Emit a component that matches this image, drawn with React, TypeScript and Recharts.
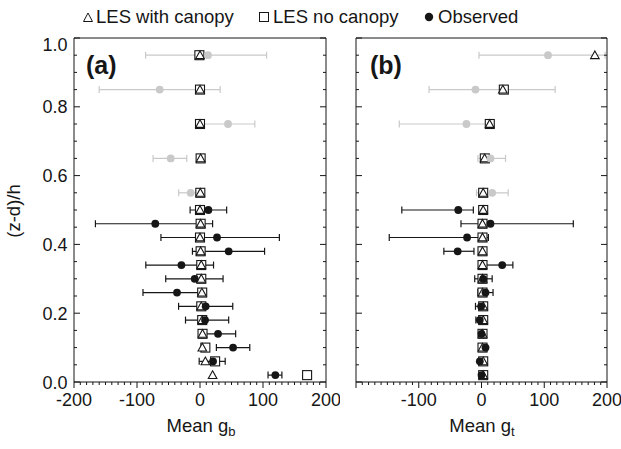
import React from "react";
import { ScatterChart, Scatter, XAxis, YAxis, ErrorBar } from "recharts";

// Heights (z-d)/h of every measurement level, top to bottom
const levels = [0.95, 0.85, 0.75, 0.65, 0.55, 0.5, 0.46, 0.42, 0.38, 0.34, 0.3, 0.26, 0.22, 0.18, 0.14, 0.1, 0.06, 0.02];
// the first levels (above the canopy) are drawn in grey
const upperLevelCount = 5;

// Panel (a): Mean g_b
const aWithCanopy = [0, 0, 0, 1, 0.5, 0, 1, 0, 1, 2, 2, 3, 2, 3.5, 4, 3.7, 8.5, 20];
const aNoCanopy = [-1, 0, 0, 1, 0.5, 0, 1, 0, 1, 2, 2, 3.5, 2, 3.5, 4, 8.5, 24, 170];
const aObserved = [12.7, -64, 44.5, -46.5, -14.8, 13.3, -71, 27, 45.5, -29.5, -8.4, -36.5, 9, 8, 28.6, 52.5, 20.7, 119.6];
const aObsErrLow = [99, 96, 42.5, 28, 19, 29, 95, 89, 57.5, 56.5, 46, 54, 43, 31, 28.6, 26.5, 22, 11.6];
const aObsErrHigh = [93, 96, 42.5, 25.5, 19, 29, 91, 99, 57, 51, 45, 38, 43, 37.5, 28, 26.5, 19.3, 10.4];

// Panel (b): Mean g_t
const bWithCanopy = [180.7, 34, 13, 5, 2.7, 2.7, 1.6, 1.6, 1.6, 1.6, 1.6, 1.6, 2.7, 2.7, 1.6, 1.6, 2.7, 2.7];
const bNoCanopy: (number | null)[] = [null, 35.6, 13.2, 5.3, 2.7, 2.7, 1.6, 1.6, 1.6, 1.6, 1.6, 1.6, 2.7, 2.7, 1.6, 1.6, 2.7, 2.7];
const bObserved = [106, -9.6, -24, 14.3, 17, -37, 14.3, -23, -38, 33, 2.7, 6.4, -0.6, -2.7, 0, 6.4, -2.7, 0];
const bObsErrLow = [110, 74, 107, 20, 25, 90, 47, 124, 22, 31, 13.5, 12, 9, 6.3, 0, 0, 0, 0];
const bObsErrHigh = [91, 127, 35, 24, 25.5, 24, 132, 34, 26, 17, 14.3, 12, 7.5, 6, 0, 0, 0, 0];

// Axes
const xDomain = [-200, 200];
const yDomain = [0, 1];
const xTicks = [-200, -190, -180, -170, -160, -150, -140, -130, -120, -110, -100, -90, -80, -70, -60, -50, -40, -30, -20, -10, 0, 10, 20, 30, 40, 50, 60, 70, 80, 90, 100, 110, 120, 130, 140, 150, 160, 170, 180, 190, 200];
const xMajorTicks = [-200, -100, 0, 100, 200];
const aXLabels = [-200, -100, 0, 100, 200];
const bXLabels = [-100, 0, 100, 200];
const yTicks = [0, 0.05, 0.1, 0.15, 0.2, 0.25, 0.3, 0.35, 0.4, 0.45, 0.5, 0.55, 0.6, 0.65, 0.7, 0.75, 0.8, 0.85, 0.9, 0.95, 1];
const yMajorTicks = [0, 0.2, 0.4, 0.6, 0.8, 1];

const legendLabels = ["LES with canopy", "LES no canopy", "Observed"];
const yTitle = "(z-d)/h";

const FONT = '"Liberation Sans", Arial, Helvetica, sans-serif';
const INK = "#161616";
const GRAY = "#c9c9c9";
const FS = 18;
const TITLE_FS = 18.5;

const near = (a: number, arr: number[]) => arr.some((b) => Math.abs(a - b) < 1e-6);

type Pt = { x: number; y: number; err?: [number, number] };

function points(vals: (number | null)[]): Pt[] {
  const out: Pt[] = [];
  levels.forEach((y, i) => {
    const v = vals[i];
    if (v !== null && v !== undefined) out.push({ x: v, y });
  });
  return out;
}

function obsPoints(vals: number[], low: number[], high: number[]): Pt[] {
  return levels.map((y, i) => ({ x: vals[i], y, err: [low[i], high[i]] as [number, number] }));
}

const NoShape = () => <g />;
const SquareShape = (p: any) =>
  p.cx == null ? <g /> : <rect x={p.cx - 4.5} y={p.cy - 4.5} width={9} height={9} fill="#fff" stroke={INK} strokeWidth={1.1} />;
const TriangleShape = (p: any) =>
  p.cx == null ? (
    <g />
  ) : (
    <path
      d={`M${p.cx},${p.cy - 4.3} L${p.cx + 4.3},${p.cy + 3.4} L${p.cx - 4.3},${p.cy + 3.4} Z`}
      fill="#fff"
      stroke={INK}
      strokeWidth={1.1}
    />
  );
const makeCircle = (color: string) => (p: any) =>
  p.cx == null ? <g /> : <circle cx={p.cx} cy={p.cy} r={3.9} fill={color} />;
const GrayCircle = makeCircle(GRAY);
const BlackCircle = makeCircle(INK);

const makeBottomTick = (labels: number[]) => (p: any) => {
  const v = p.payload.value;
  const major = near(v, xMajorTicks);
  return (
    <g>
      <line x1={p.x} x2={p.x} y1={p.y} y2={p.y + (major ? 6 : 3)} stroke={INK} strokeWidth={1} />
      {near(v, labels) ? (
        <text x={p.x} y={p.y + 23.5} textAnchor="middle" fontSize={FS} fontFamily={FONT} fill={INK}>
          {v}
        </text>
      ) : null}
    </g>
  );
};
const TopTick = (p: any) => {
  const major = near(p.payload.value, xMajorTicks);
  return <line x1={p.x} x2={p.x} y1={p.y} y2={p.y - (major ? 6 : 3)} stroke={INK} strokeWidth={1} />;
};
const makeLeftTick = (showLabels: boolean) => (p: any) => {
  const v = p.payload.value;
  const major = near(v, yMajorTicks);
  return (
    <g>
      <line x1={p.x} x2={p.x + (major ? 6 : 3)} y1={p.y} y2={p.y} stroke={INK} strokeWidth={1} />
      {showLabels && major ? (
        <text x={p.x - 6.5} y={p.y + (v > 0.99 ? 12.5 : 6.5)} textAnchor="end" fontSize={FS} fontFamily={FONT} fill={INK}>
          {v.toFixed(1)}
        </text>
      ) : null}
    </g>
  );
};
const RightTick = (p: any) => {
  const major = near(p.payload.value, yMajorTicks);
  return <line x1={p.x} x2={p.x - (major ? 6 : 3)} y1={p.y} y2={p.y} stroke={INK} strokeWidth={1} />;
};

type PanelProps = {
  width: number;
  leftWidth: number;
  withCanopy: (number | null)[];
  noCanopy: (number | null)[];
  observed: number[];
  errLow: number[];
  errHigh: number[];
  xLabels: number[];
  showYLabels: boolean;
};

function Panel(props: PanelProps) {
  const obs = obsPoints(props.observed, props.errLow, props.errHigh);
  const obsUpper = obs.slice(0, upperLevelCount);
  const obsLower = obs.slice(upperLevelCount);
  const axisLine = { stroke: INK, strokeWidth: 1 };
  return (
    <ScatterChart width={props.width} height={449} margin={{ top: 0, right: 0, bottom: 0, left: 0 }}>
      <XAxis
        xAxisId="bottom"
        orientation="bottom"
        type="number"
        dataKey="x"
        domain={xDomain}
        allowDataOverflow
        ticks={xTicks}
        interval={0}
        height={67}
        tickSize={0}
        tickMargin={0}
        tickLine={false}
        axisLine={axisLine}
        tick={makeBottomTick(props.xLabels)}
      />
      <XAxis
        xAxisId="top"
        orientation="top"
        type="number"
        domain={xDomain}
        allowDataOverflow
        ticks={xTicks}
        interval={0}
        height={38}
        tickSize={0}
        tickMargin={0}
        tickLine={false}
        axisLine={axisLine}
        tick={TopTick}
      />
      <YAxis
        yAxisId="left"
        orientation="left"
        type="number"
        dataKey="y"
        domain={yDomain}
        allowDataOverflow
        ticks={yTicks}
        interval={0}
        width={props.leftWidth}
        tickSize={0}
        tickMargin={0}
        tickLine={false}
        axisLine={axisLine}
        tick={makeLeftTick(props.showYLabels)}
      />
      <YAxis
        yAxisId="right"
        orientation="right"
        type="number"
        domain={yDomain}
        allowDataOverflow
        ticks={yTicks}
        interval={0}
        width={14}
        tickSize={0}
        tickMargin={0}
        tickLine={false}
        axisLine={axisLine}
        tick={RightTick}
      />
      <Scatter xAxisId="bottom" yAxisId="left" data={obsUpper} shape={NoShape} isAnimationActive={false}>
        <ErrorBar dataKey="err" direction="x" width={3.5} stroke={GRAY} strokeWidth={1.2} isAnimationActive={false} />
      </Scatter>
      <Scatter xAxisId="bottom" yAxisId="left" data={obsLower} shape={NoShape} isAnimationActive={false}>
        <ErrorBar dataKey="err" direction="x" width={3.5} stroke={INK} strokeWidth={1.2} isAnimationActive={false} />
      </Scatter>
      <Scatter xAxisId="bottom" yAxisId="left" data={points(props.noCanopy)} shape={SquareShape} isAnimationActive={false} />
      <Scatter xAxisId="bottom" yAxisId="left" data={points(props.withCanopy)} shape={TriangleShape} isAnimationActive={false} />
      <Scatter xAxisId="bottom" yAxisId="left" data={obsUpper} shape={GrayCircle} isAnimationActive={false} />
      <Scatter xAxisId="bottom" yAxisId="left" data={obsLower} shape={BlackCircle} isAnimationActive={false} />
    </ScatterChart>
  );
}

export default function App() {
  return (
    <div style={{ position: "fixed", left: 0, top: 0, width: 621, height: 449, background: "#fff", overflow: "hidden" }}>
      <div style={{ position: "absolute", left: 0, top: 0 }}>
        <Panel
          width={340}
          leftWidth={74}
          withCanopy={aWithCanopy}
          noCanopy={aNoCanopy}
          observed={aObserved}
          errLow={aObsErrLow}
          errHigh={aObsErrHigh}
          xLabels={aXLabels}
          showYLabels={true}
        />
      </div>
      <div style={{ position: "absolute", left: 340, top: 0 }}>
        <Panel
          width={281}
          leftWidth={16}
          withCanopy={bWithCanopy}
          noCanopy={bNoCanopy}
          observed={bObserved}
          errLow={bObsErrLow}
          errHigh={bObsErrHigh}
          xLabels={bXLabels}
          showYLabels={false}
        />
      </div>
      <svg
        width={621}
        height={449}
        style={{ position: "absolute", left: 0, top: 0, pointerEvents: "none" }}
        fontFamily={FONT}
        fill={INK}
      >
        {/* legend */}
        <path d="M83.5,21.5 L88,13 L92.5,21.5 Z" fill="#fff" stroke={INK} strokeWidth={1} />
        <text x={96} y={22.5} fontSize={TITLE_FS}>{legendLabels[0]}</text>
        <rect x={259.5} y={12.5} width={9} height={9} fill="#fff" stroke={INK} strokeWidth={1} />
        <text x={273} y={22.5} fontSize={TITLE_FS}>{legendLabels[1]}</text>
        <circle cx={429} cy={17} r={4.2} fill={INK} />
        <text x={438} y={22.5} fontSize={TITLE_FS}>{legendLabels[2]}</text>
        {/* panel tags */}
        <text x={86} y={74} fontSize={25} fontWeight="bold">(a)</text>
        <text x={370} y={74} fontSize={25} fontWeight="bold">(b)</text>
        {/* axis titles */}
        <text x={20} y={211} fontSize={TITLE_FS} textAnchor="middle" transform="rotate(-90 20 211)">{yTitle}</text>
        <text x={201} y={432} fontSize={TITLE_FS} textAnchor="middle">
          <tspan>Mean g</tspan>
          <tspan fontSize={13} dy={4}>b</tspan>
        </text>
        <text x={482} y={432} fontSize={TITLE_FS} textAnchor="middle">
          <tspan>Mean g</tspan>
          <tspan fontSize={13} dy={4}>t</tspan>
        </text>
      </svg>
    </div>
  );
}
